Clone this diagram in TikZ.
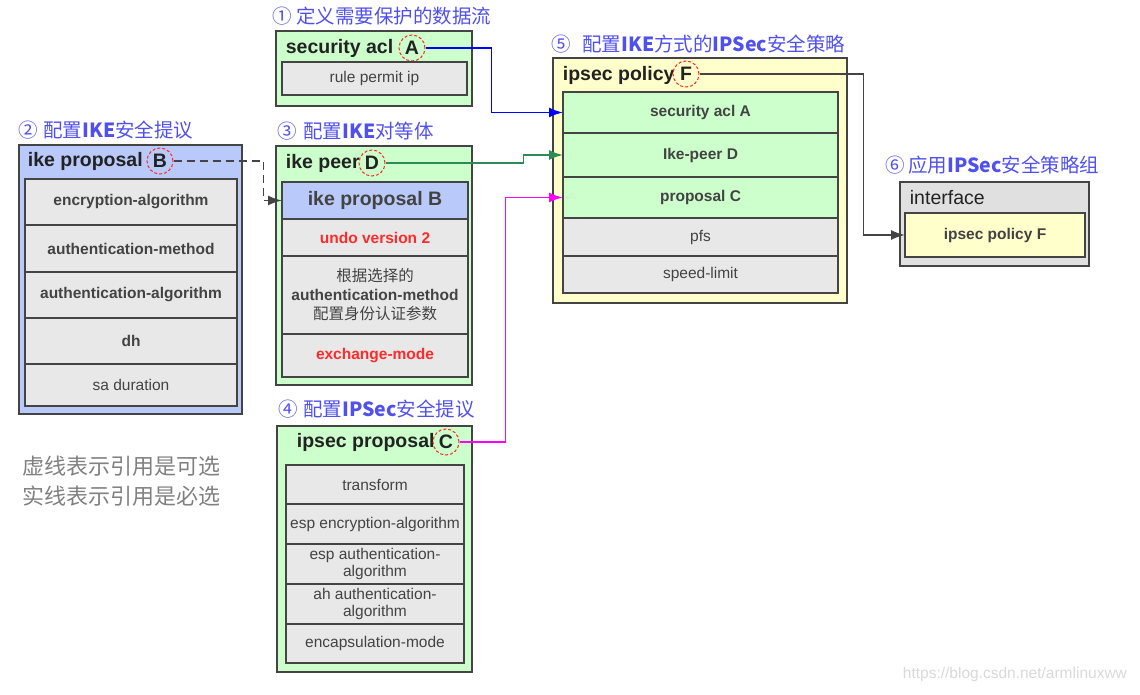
\documentclass[tikz,border=0pt]{standalone}
\usepackage{fontspec}
\setmainfont{Liberation Sans}
\newfontfamily\cjk{Noto Sans CJK SC}
\usepackage{xcolor}
\usepackage{tikz}
\usetikzlibrary{positioning, arrows.meta}
\definecolor{mint}{HTML}{CCFFCC}
\definecolor{periwinkle}{HTML}{B9C9F9}
\definecolor{cream}{HTML}{FFFFCC}
\definecolor{rowgray}{HTML}{E8E8E8}
\definecolor{boxgray}{HTML}{E0E0E0}
\definecolor{edge}{HTML}{444444}
\definecolor{ink}{HTML}{222222}
\definecolor{stepblue}{HTML}{5050F0}
\definecolor{alert}{HTML}{FF2A2A}
\definecolor{peergreen}{HTML}{2E8B57}
\definecolor{acllink}{HTML}{0000FF}
\definecolor{proplink}{HTML}{FF00FF}
\definecolor{notegray}{HTML}{808080}

\begin{document}
\begin{tikzpicture}[x=1pt, y=-1pt, >={Latex[length=14pt,width=10pt]}, line width=1.8pt,
  outer/.style={draw=edge, line width=2.4pt, anchor=north west, inner sep=0pt, outer sep=0pt},
  row/.style={draw=edge, line width=2.4pt, fill=rowgray, anchor=north west, inner sep=0pt, outer sep=0pt, align=center, text=ink!85, font=\fontsize{15.5}{19}\selectfont},
  boldrow/.style={row, font=\fontsize{15.5}{19}\selectfont\bfseries},
  title/.style={anchor=west, inner sep=0pt, text=ink, font=\fontsize{19.5}{22}\selectfont\bfseries},
  tag/.style={circle, draw=alert, densely dashed, line width=1pt, minimum size=26pt, inner sep=0pt, text=ink, font=\fontsize{19.5}{22}\selectfont\bfseries},
  steplabel/.style={anchor=west, inner sep=0pt, text=stepblue, font=\cjk\fontsize{19.5}{22}\selectfont},
  note/.style={anchor=west, inner sep=0pt, text=notegray, font=\cjk\fontsize{22}{26}\selectfont}]
\useasboundingbox (0,0) rectangle (1140,695);

% step labels
\node[steplabel] (s1) at (272,16) {①\hspace{4pt}定义需要保护的数据流};
\node[steplabel] (s2) at (18,130) {②\hspace{5pt}配置\textbf{IKE}安全提议};
\node[steplabel] (s3) at (277,131) {③\hspace{6pt}配置\textbf{IKE}对等体};
\node[steplabel] (s4) at (278,409) {④\hspace{5pt}配置\textbf{IPSec}安全提议};
\node[steplabel] (s5) at (551,44) {⑤\hspace{11pt}配置\textbf{IKE}方式的\textbf{IPSec}安全策略};
\node[steplabel] (s6) at (885,165) {⑥\hspace{3pt}应用\textbf{IPSec}安全策略组};

% security acl
\node[outer, fill=mint, minimum width=196pt, minimum height=75pt] (acl) at (276,31) {};
\node[title] (aclT) at (285,48) {security acl};
\node[tag] (tagA) at (412,48) {A};
\node[row, minimum width=185pt, minimum height=33pt] (aclRule) at (282,62) {rule permit ip};

% ike proposal
\node[outer, fill=periwinkle, minimum width=223pt, minimum height=269pt] (ikeProp) at (19,145) {};
\node[title] (ikePropT) at (27,161) {ike proposal};
\node[tag] (tagB) at (160,161) {B};
\node[boldrow, minimum width=212pt, minimum height=46pt] (propEnc) at (25,179) {encryption-algorithm};
\node[boldrow, minimum width=212pt, minimum height=47pt, below=0pt of propEnc] (propMeth) {authentication-method};
\node[boldrow, minimum width=212pt, minimum height=46pt, below=0pt of propMeth] (propAuth) {authentication-algorithm};
\node[boldrow, minimum width=212pt, minimum height=46pt, below=0pt of propAuth] (propDh) {dh};
\node[row, minimum width=212pt, minimum height=42pt, below=0pt of propDh] (propSa) {sa duration};

% ike peer
\node[outer, fill=mint, minimum width=196pt, minimum height=239pt] (peer) at (276,146) {};
\node[title] (peerT) at (285,163) {ike peer};
\node[tag] (tagD) at (372,163) {D};
\node[row, fill=periwinkle, minimum width=186pt, minimum height=37pt, font=\fontsize{19.5}{22}\selectfont\bfseries] (peerIke) at (282,182) {ike proposal B};
\node[boldrow, text=alert, minimum width=186pt, minimum height=37pt, below=0pt of peerIke] (peerUndo) {undo version 2};
\node[row, minimum width=186pt, minimum height=78pt, below=0pt of peerUndo] (peerAuth) {{\cjk 根据选择的}\\\textbf{authentication-method}\\{\cjk 配置身份认证参数}};
\node[boldrow, text=alert, minimum width=186pt, minimum height=43pt, below=0pt of peerAuth] (peerMode) {exchange-mode};

% ipsec proposal
\node[outer, fill=mint, minimum width=195pt, minimum height=246pt] (ipProp) at (277,426) {};
\node[title] (ipPropT) at (296,442) {ipsec proposal};
\node[tag] (tagC) at (446,442) {C};
\node[row, minimum width=178pt, minimum height=39pt] (ipTrans) at (286,465) {transform};
\node[row, minimum width=178pt, minimum height=40pt, below=0pt of ipTrans] (ipEsp) {esp encryption-algorithm};
\node[row, minimum width=178pt, minimum height=40pt, below=0pt of ipEsp, font=\fontsize{15.5}{17}\selectfont] (ipEspAuth) {esp authentication-\\algorithm};
\node[row, minimum width=178pt, minimum height=40pt, below=0pt of ipEspAuth, font=\fontsize{15.5}{17}\selectfont] (ipAh) {ah authentication-\\algorithm};
\node[row, minimum width=178pt, minimum height=39pt, below=0pt of ipAh] (ipEncap) {encapsulation-mode};

% ipsec policy
\node[outer, fill=cream, minimum width=294pt, minimum height=245pt] (policy) at (553,58) {};
\node[title] (policyT) at (562,75) {ipsec policy};
\node[tag] (tagF) at (686,74) {F};
\node[boldrow, fill=mint, minimum width=275pt, minimum height=41pt] (polAcl) at (563,92) {security acl A};
\node[boldrow, fill=mint, minimum width=275pt, minimum height=44pt, below=0pt of polAcl] (polPeer) {Ike-peer D};
\node[boldrow, fill=mint, minimum width=275pt, minimum height=41pt, below=0pt of polPeer] (polProp) {proposal C};
\node[row, minimum width=275pt, minimum height=38pt, below=0pt of polProp] (polPfs) {pfs};
\node[row, minimum width=275pt, minimum height=37pt, below=0pt of polPfs] (polSpeed) {speed-limit};

% interface
\node[outer, fill=boxgray, minimum width=189pt, minimum height=84pt] (iface) at (900,182) {};
\node[title, font=\fontsize{19.5}{22}\selectfont] (ifaceT) at (909,198) {interface};
\node[boldrow, fill=cream, minimum width=180pt, minimum height=44pt] (ifPol) at (905,213) {ipsec policy F};

% references
\draw[->, acllink] (tagA.east) -- ++(66,0) |- (polAcl.west);
\draw[->, peergreen] (tagD.east) -- ++(138,0) |- (polPeer.west);
\draw[->, proplink] (tagC.east) -- ++(46,0) |- (polProp.west);
\draw[->, edge] (tagF.east) -- ++(164,0) |- (ifPol.west);
\draw[->, edge, dash pattern=on 8pt off 5pt] (tagB.east) -- ++(90,0) |- (peerIke.west);

% legend
\node[note] (note1) at (22,466) {虚线表示引用是可选};
\node[note] (note2) at (22,496) {实线表示引用是必选};
\node[anchor=west, inner sep=0pt, text=black!15, font=\fontsize{15.5}{18}\selectfont] (mark) at (902,674) {https://blog.csdn.net/armlinuxww};
\end{tikzpicture}
\end{document}
